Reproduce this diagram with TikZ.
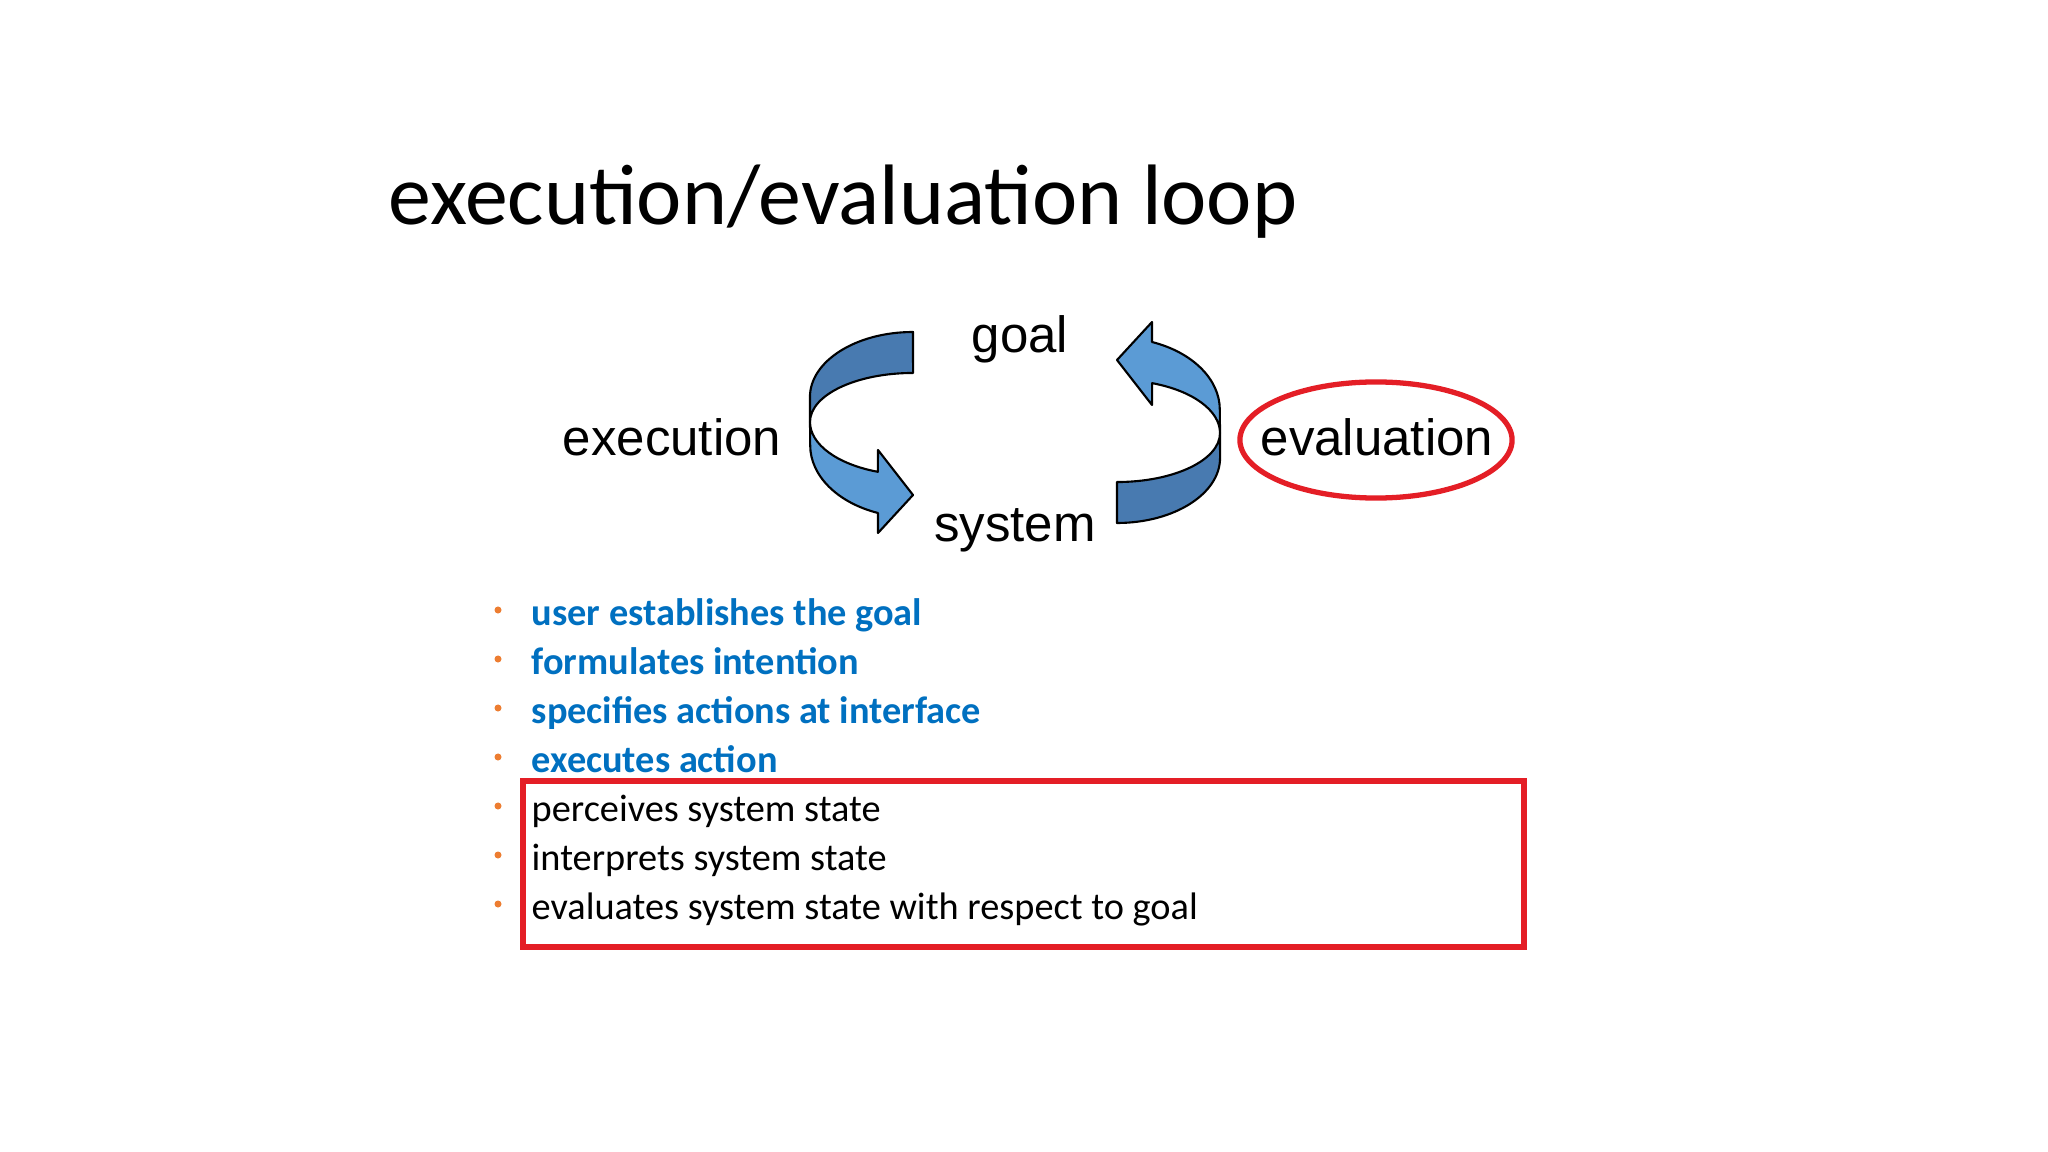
\documentclass[tikz,border=0pt]{standalone}
\usepackage{fontspec}
\usepackage{tikz}
\usetikzlibrary{positioning}
\setmainfont{Carlito}
\newfontfamily\arialfont{Liberation Sans}
\definecolor{cBackFace}{RGB}{72,122,176}
\definecolor{cFrontFace}{RGB}{91,155,213}
\definecolor{cMark}{RGB}{228,30,38}
\definecolor{cItem}{RGB}{0,112,192}
\definecolor{cDot}{RGB}{237,125,49}

\begin{document}
\begin{tikzpicture}
[
	x	= 0.01cm,	% one unit is one pixel of the slide
	y	= -0.01cm,	% y runs downwards, like the slide
	heading/.style	= {font = \fontsize{24.4}{29}\selectfont, inner sep = 0pt},
	word/.style	= {font = \arialfont\fontsize{14.5}{17}\selectfont, inner sep = 0pt},
	itemblue/.style	= {font = \fontsize{10.9}{13}\selectfont\bfseries, text = cItem, inner sep = 0pt},
	itemblack/.style	= {font = \fontsize{10.9}{13}\selectfont, text = black, inner sep = 0pt},
	dot/.style	= {shape = circle, fill = cDot, inner sep = 0pt, minimum size = 0.07cm},
	backface/.style	= {fill = cBackFace, draw = black, line width = 0.6pt, line join = round},
	frontface/.style	= {fill = cFrontFace, draw = black, line width = 0.6pt, line join = round},
	redmark/.style	= {draw = cMark, line width = 1.5pt},
]

{
	\useasboundingbox (0,0) rectangle (2048,1152);
	\fill [white] (0,0) rectangle (2048,1152);

	% nodes declaration
	\node (nTitle) [heading, anchor = base west] at (388,225) {execution/evaluation loop};

	\node (nGoal) [word, anchor = base] at (1020,353) {goal};
	\node (nSystem) [word, anchor = base] at (1015,542) {system};
	\node (nExecution) [word, anchor = base] at (672,456) {execution};
	\node (nEvaluation) [word, anchor = base] at (1377,456) {evaluation};

	\foreach \i/\txt in {1/user establishes the goal, 2/formulates intention, 3/specifies actions at interface, 4/executes action}
	{
		\node (nItem\i) [itemblue, anchor = base west] at (531,{576+49*\i}) {\txt};
		\node (nDot\i) [dot] at (498,{561+49*\i}) {};
	}
	\foreach \i/\txt in {5/perceives system state, 6/interprets system state, 7/evaluates system state with respect to goal}
	{
		\node (nItem\i) [itemblack, anchor = base west] at (531,{576+49*\i}) {\txt};
		\node (nDot\i) [dot] at (498,{561+49*\i}) {};
	}

	% the two twisted loop arrows
	\foreach \r in {0,180}
	{
		\begin{scope}[rotate around = {\r:(1015,427.5)}]
			\filldraw [backface] (913,332) arc [start angle = 90, end angle = 180, x radius = 1.03cm, y radius = 0.65cm]
				-- (810,422) arc [start angle = 180, end angle = 90, x radius = 1.03cm, y radius = 0.49cm] -- cycle;
			\filldraw [frontface] (810,422) arc [start angle = 180, end angle = 250, x radius = 1.03cm, y radius = 0.53cm]
				-- (878,450) -- (913,495) -- (878,533) -- (878,513)
				arc [start angle = 250, end angle = 180, x radius = 1.03cm, y radius = 0.72cm] -- cycle;
		\end{scope}
	}

	% red marks
	\draw [redmark] (1376,440) ellipse [x radius = 1.36cm, y radius = 0.58cm];
	\draw [redmark] (523,781) rectangle (1524,947);
}

\end{tikzpicture}
\end{document}
